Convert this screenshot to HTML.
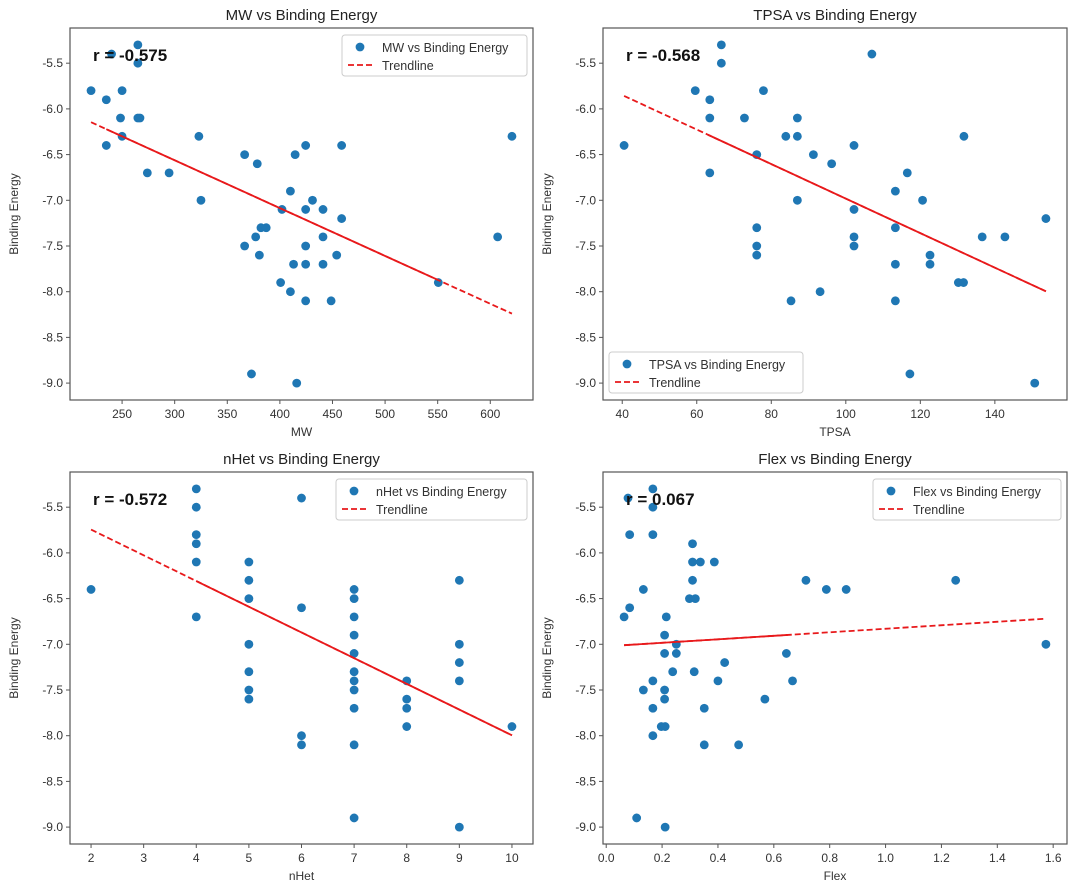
<!DOCTYPE html>
<html><head><meta charset="utf-8">
<style>
html,body{margin:0;padding:0;background:#fff;}
svg{display:block;font-family:"Liberation Sans","DejaVu Sans",sans-serif;}
</style></head>
<body>
<svg id="fig" width="1080" height="891" viewBox="0 0 1080 891" xmlns="http://www.w3.org/2000/svg"></svg>
<script>
const energyMW = [-5.3,-5.4,-5.5,-5.8,-5.9,-5.8,-6.1,-6.1,-6.1,-6.3,-6.4,-6.7,-6.7,-6.3,-7.0,-6.5,-6.6,-6.5,-6.4,-6.4,-6.9,-7.0,-7.1,-7.1,-7.1,-7.2,-7.3,-7.3,-7.4,-7.4,-7.5,-7.5,-7.6,-7.6,-7.7,-7.7,-7.7,-7.9,-8.0,-8.1,-8.1,-8.9,-9.0,-7.9,-7.4,-6.3];
const valuesMW = [265,240,265,220.5,235,250,248.5,265,267,250,235,274,294.7,323,325,366.5,378.5,414.5,424.5,458.7,410,431,402,424.5,441,458.7,382,387,377,441,366.5,424.5,380.5,454,413,424.5,441,400.7,410,424.5,448.7,373,416,550.6,607,620.6];
const trendMW = [-6.146,-8.24];
const ticksMW = [250,300,350,400,450,500,550,600];

const energyTPSA = [-5.3,-5.5,-5.4,-5.8,-5.8,-5.9,-6.1,-6.1,-6.1,-6.3,-6.3,-6.3,-6.4,-6.4,-6.5,-6.5,-6.6,-6.7,-6.7,-6.9,-7.0,-7.0,-7.1,-7.2,-7.3,-7.3,-7.4,-7.4,-7.4,-7.5,-7.5,-7.6,-7.6,-7.7,-7.7,-7.9,-7.9,-8.0,-8.1,-8.1,-8.9,-9.0];
const valuesTPSA = [66.6,66.6,107,59.6,77.9,63.5,63.5,72.8,87,83.9,87,131.7,40.5,102.2,76.1,91.3,96.2,63.5,116.5,113.3,87,120.6,102.2,153.7,76.1,113.3,102.2,136.6,142.7,76.1,102.2,76.1,122.6,113.3,122.6,130.2,131.6,93.1,85.3,113.3,117.2,150.7];
const trendTPSA = [-5.858,-7.996];
const ticksTPSA = [40,60,80,100,120,140];

const energyNHet = [-6.4,-5.3,-5.5,-5.8,-5.9,-6.1,-6.7,-6.1,-6.3,-6.5,-7.0,-7.3,-7.5,-7.6,-5.4,-6.6,-8.0,-8.1,-6.4,-6.5,-6.7,-6.9,-7.1,-7.3,-7.4,-7.5,-7.7,-8.1,-8.9,-7.4,-7.6,-7.7,-7.9,-6.3,-7.0,-7.2,-7.4,-9.0,-7.9];
const valuesNHet = [2,4,4,4,4,4,4,5,5,5,5,5,5,5,6,6,6,6,7,7,7,7,7,7,7,7,7,7,7,8,8,8,8,9,9,9,9,9,10];
const trendNHet = [-5.745,-7.996];
const ticksNHet = [2,3,4,5,6,7,8,9,10];

const energyFlex = [-5.3,-5.4,-5.5,-5.8,-5.8,-5.9,-6.1,-6.1,-6.1,-6.3,-6.3,-6.3,-6.4,-6.4,-6.4,-6.5,-6.5,-6.6,-6.7,-6.7,-6.9,-7.0,-7.0,-7.1,-7.1,-7.1,-7.2,-7.3,-7.3,-7.4,-7.4,-7.4,-7.5,-7.5,-7.6,-7.6,-7.7,-7.7,-7.9,-7.9,-8.0,-8.1,-8.1,-8.9,-9.0];
const valuesFlex = [0.167,0.078,0.167,0.084,0.167,0.309,0.309,0.337,0.387,0.309,0.715,1.251,0.133,0.788,0.859,0.298,0.319,0.084,0.064,0.215,0.209,0.251,1.574,0.209,0.251,0.645,0.424,0.238,0.315,0.167,0.40,0.667,0.133,0.209,0.209,0.568,0.167,0.351,0.197,0.211,0.167,0.351,0.474,0.109,0.211];
const trendFlex = [-7.01,-6.72];
const ticksFlex = [0.0,0.2,0.4,0.6,0.8,1.0,1.2,1.4,1.6];

const yTicks = [-5.5,-6.0,-6.5,-7.0,-7.5,-8.0,-8.5,-9.0];
const rLabels = ["r = -0.575","r = -0.568","r = -0.572","r = 0.067"];

const NS = "http://www.w3.org/2000/svg";
const fig = document.getElementById('fig');
function mk(tag, attrs, parent){const e=document.createElementNS(NS,tag);for(const k in attrs)e.setAttribute(k,attrs[k]);(parent||fig).appendChild(e);return e;}

function panel(o){
  const g = mk('g',{});
  
  
  const xmin=Math.min(...o.xs), xmax=Math.max(...o.xs), xp=(xmax-xmin)*0.05;
  const ymin=Math.min(...o.ys), ymax=Math.max(...o.ys), yp=(ymax-ymin)*0.05;
  const x0=xmin-xp, x1=xmax+xp, y0=ymin-yp, y1=ymax+yp;
  const sx=v=>o.L+(v-x0)/(x1-x0)*(o.R-o.L);
  const sy=v=>o.B-(v-y0)/(y1-y0)*(o.B-o.T);
  const frame = mk('rect',{x:o.L,y:o.T,width:o.R-o.L,height:o.B-o.T,fill:'#fff',stroke:'#555','stroke-width':1.2},g);
  
  
  const title = mk('text',{x:(o.L+o.R)/2,y:o.T-8,'text-anchor':'middle','font-size':15,fill:'#222'},g);
  title.textContent=o.title;
  
  
  o.xt.forEach(t=>{
    const x=sx(t);
    mk('line',{x1:x,x2:x,y1:o.B,y2:o.B+4,stroke:'#555'},g);
    const tx=mk('text',{x:x,y:o.B+18,'text-anchor':'middle','font-size':12,fill:'#333'},g);
    tx.textContent=o.fmt(t);
    
    
  });
  yTicks.forEach(t=>{
    const y=sy(t);
    mk('line',{x1:o.L-4,x2:o.L,y1:y,y2:y,stroke:'#555'},g);
    const tx=mk('text',{x:o.L-7,y:y+4,'text-anchor':'end','font-size':12,fill:'#333'},g);
    tx.textContent=t.toFixed(1);
    
    
  });
  const xl=mk('text',{x:(o.L+o.R)/2,y:o.B+36,'text-anchor':'middle','font-size':12,fill:'#333'},g);
  xl.textContent=o.xlabel;
  
  
  const yl=mk('text',{x:0,y:0,'text-anchor':'middle','font-size':12,fill:'#333',transform:`translate(${o.L-52},${(o.T+o.B)/2}) rotate(-90)`},g);
  yl.textContent='Binding Energy';
  
  
  o.xs.forEach((v,i)=>{
    const c=mk('circle',{cx:sx(v),cy:sy(o.ys[i]),r:4.4,fill:'#1f77b4'},g);
    
    
  });
  const tl=mk('line',{x1:sx(xmin),y1:sy(o.trend[0]),x2:sx(xmax),y2:sy(o.trend[1]),stroke:'#e8191b','stroke-width':1.8,'stroke-dasharray':'6 3'},g);
  
  
  if(o.solid){
    const f=v=>o.trend[0]+(v-xmin)/(xmax-xmin)*(o.trend[1]-o.trend[0]);
    mk('line',{x1:sx(o.solid[0]),y1:sy(f(o.solid[0])),x2:sx(o.solid[1]),y2:sy(f(o.solid[1])),stroke:'#e8191b','stroke-width':1.8},g);
  }
  const r=mk('text',{x:o.L+23,y:o.T+33,'font-size':17,'font-weight':'bold',fill:'#111'},g);
  r.textContent=o.r;
  
  
  const lg=mk('g',{},g);
  
  
  const [lx,ly,lw]=o.leg;
  mk('rect',{x:lx,y:ly,width:lw,height:41,rx:3,fill:'#fff','fill-opacity':0.85,stroke:'#ccc'},lg);
  mk('circle',{cx:lx+18,cy:ly+12,r:4.4,fill:'#1f77b4'},lg);
  const t1=mk('text',{x:lx+40,y:ly+17,'font-size':12.5,fill:'#333'},lg);
  t1.textContent=o.title;
  mk('line',{x1:lx+6,x2:lx+30,y1:ly+30,y2:ly+30,stroke:'#e8191b','stroke-width':1.8,'stroke-dasharray':'6 3'},lg);
  const t2=mk('text',{x:lx+40,y:ly+35,'font-size':12.5,fill:'#333'},lg);
  t2.textContent='Trendline';
}

panel({key:'mw',title:'MW vs Binding Energy',xlabel:'MW',xs:valuesMW,ys:energyMW,trend:trendMW,xt:ticksMW,fmt:v=>String(v),L:70,R:533,T:28,B:400,r:rLabels[0],leg:[342,35,185],solid:[235,550]});
panel({key:'tpsa',title:'TPSA vs Binding Energy',xlabel:'TPSA',xs:valuesTPSA,ys:energyTPSA,trend:trendTPSA,xt:ticksTPSA,fmt:v=>String(v),L:603,R:1067,T:28,B:400,r:rLabels[1],leg:[609,352,194],solid:[63,153.7]});
panel({key:'nhet',title:'nHet vs Binding Energy',xlabel:'nHet',xs:valuesNHet,ys:energyNHet,trend:trendNHet,xt:ticksNHet,fmt:v=>String(v),L:70,R:533,T:472,B:844,r:rLabels[2],leg:[336,479,191],solid:[4,10]});
panel({key:'flex',title:'Flex vs Binding Energy',xlabel:'Flex',xs:valuesFlex,ys:energyFlex,trend:trendFlex,xt:ticksFlex,fmt:v=>v.toFixed(1),L:603,R:1067,T:472,B:844,r:rLabels[3],leg:[873,479,188],solid:[0.064,0.65]});
</script>
</body></html>
